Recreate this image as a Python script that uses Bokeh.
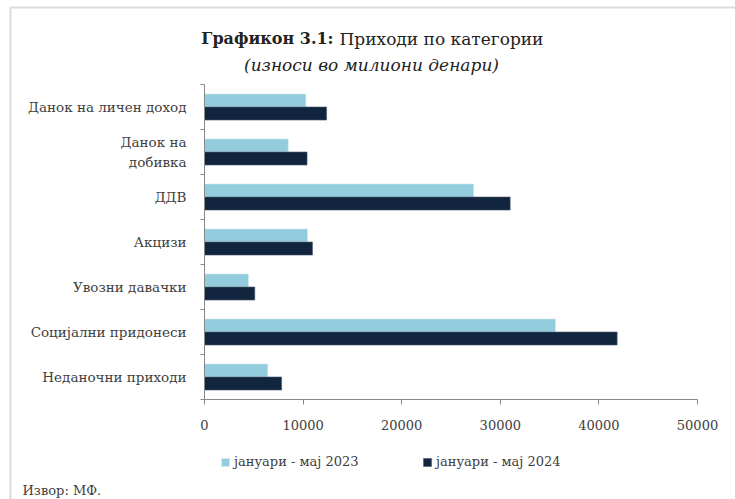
from bokeh.plotting import figure
from bokeh.models import (Range1d, FixedTicker, Label, Legend, LegendItem, ColumnDataSource,
                          BoxAnnotation)
from bokeh.transform import dodge
from bokeh.embed import file_html
from bokeh.resources import INLINE

categories = ["Данок на личен доход", "Данок на\nдобивка", "ДДВ", "Акцизи",
              "Увозни давачки", "Социјални придонеси", "Неданочни приходи"]
values_2023 = [10280, 8500, 27300, 10450, 4460, 35600, 6420]
values_2024 = [12380, 10400, 31000, 10950, 5100, 41850, 7820]
x_ticks = [0, 10000, 20000, 30000, 40000, 50000]
series_names = ["јануари - мај 2023", "јануари - мај 2024"]
title_bold = "Графикон 3.1:"
title_rest = "Приходи по категории"
subtitle = "(износи во милиони денари)"
source_note = "Извор: МФ."

C23 = "#93CDDD"
C24 = "#11253F"
AX = "#888888"
TXT = "#404040"
FONT = "DejaVu Serif"

W, H = 735, 499
# plot area (pixels on the canvas) of the bar region
PL, PR, PT, PB = 204, 697, 84, 399

n = len(categories)
slot = [n - i - 0.5 for i in range(n)]          # category slot centres, first at top
bounds = list(range(n + 1))                      # category slot boundaries

xmax = x_ticks[-1]
xs = xmax / (PR - PL)
ys = n / (PB - PT)

src = ColumnDataSource(dict(cat=categories, slot=slot, v2023=values_2023, v2024=values_2024))

p = figure(width=W, height=H, output_backend="svg", toolbar_location=None, tools="",
           x_range=Range1d(-PL * xs, (W - PL) * xs),
           y_range=Range1d(-(H - PB) * ys, n + PT * ys),
           min_border=0, min_border_left=0, min_border_right=0,
           min_border_top=0, min_border_bottom=0)
p.outline_line_color = None
p.xgrid.visible = False
p.ygrid.visible = False
p.background_fill_color = "white"
p.border_fill_color = "white"

ya = p.yaxis[0]
ya.fixed_location = 0
ya.bounds = (0, n)
ya.ticker = FixedTicker(ticks=slot, minor_ticks=bounds)
ya.major_label_overrides = {s: c for s, c in zip(slot, categories)}
ya.major_tick_line_color = None
ya.major_tick_in = 0
ya.major_tick_out = 0
ya.minor_tick_in = 0
ya.minor_tick_out = 4
ya.minor_tick_line_color = AX
ya.axis_line_color = AX
ya.major_label_standoff = 14
ya.major_label_text_font = FONT
ya.major_label_text_font_size = "13.5px"
ya.major_label_text_color = TXT

xa = p.xaxis[0]
xa.fixed_location = 0
xa.bounds = (0, xmax)
xa.ticker = FixedTicker(ticks=x_ticks)
xa.major_tick_in = 0
xa.major_tick_out = 5
xa.minor_tick_line_color = None
xa.axis_line_color = AX
xa.major_tick_line_color = AX
xa.major_label_text_font = FONT
xa.major_label_text_font_size = "13px"
xa.major_label_text_color = TXT
xa.major_label_standoff = 15

r1 = p.hbar(y=dodge("slot", 0.145), right="v2023", left=0, height=0.29,
            source=src, fill_color=C23, line_color="#d6eaf0", line_width=0.6)
r2 = p.hbar(y=dodge("slot", -0.145), right="v2024", left=0, height=0.29,
            source=src, fill_color=C24, line_color="#4a5a70", line_width=0.6)

for name, rend, x in [(series_names[0], r1, 220), (series_names[1], r2, 422)]:
    lg = Legend(items=[LegendItem(label=name, renderers=[rend])], location=(x, 30),
                orientation="horizontal", border_line_color=None, background_fill_alpha=0,
                padding=0, margin=0, glyph_width=10, glyph_height=10, label_standoff=4,
                label_height=14, label_text_font=FONT, label_text_font_size="13px",
                label_text_color=TXT)
    p.add_layout(lg, "center")

p.add_layout(Label(x=333, y=H - 38, x_units="screen", y_units="screen", text=title_bold,
                   text_align="right", text_baseline="alphabetic", text_font=FONT,
                   text_font_size="16px", text_font_style="bold", text_color="#222222"))
p.add_layout(Label(x=339, y=H - 38, x_units="screen", y_units="screen", text=title_rest,
                   text_align="left", text_baseline="alphabetic", text_font=FONT,
                   text_font_size="17px", text_color="#222222"))
p.add_layout(Label(x=371, y=H - 64, x_units="screen", y_units="screen", text=subtitle,
                   text_align="center", text_baseline="alphabetic", text_font=FONT,
                   text_font_size="17px", text_font_style="italic", text_color="#222222"))
p.add_layout(Label(x=22, y=H - 490, x_units="screen", y_units="screen", text=source_note,
                   text_align="left", text_baseline="alphabetic", text_font=FONT,
                   text_font_size="13px", text_color=TXT))

# chart-area frame (only its top and left edges fall inside the picture)
p.add_layout(BoxAnnotation(left=10, right=W + 50, top=H - 7, bottom=-50,
                           left_units="screen", right_units="screen",
                           top_units="screen", bottom_units="screen",
                           fill_alpha=0, line_color="#8c8c8c", line_width=2))

open("out.html", "w").write(file_html(p, INLINE))
